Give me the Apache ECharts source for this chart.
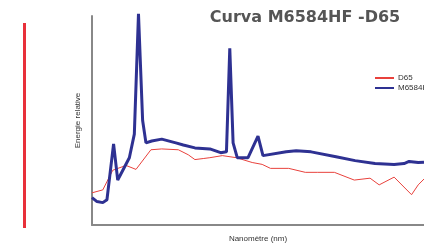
<!DOCTYPE html>
<html>
<head>
<meta charset="utf-8">
<script src="https://cdn.jsdelivr.net/npm/echarts@6/dist/echarts.min.js"></script>
<style>
  html, body { margin: 0; padding: 0; background: #fff; }
  #chart { width: 424px; height: 248px; }
</style>
</head>
<body>
<div id="chart"></div>
<script>
// spectrum points, wavelength (nm) / relative energy
const d65Wl = [380, 393, 405, 421, 433, 451, 464, 484, 496, 504, 514, 522, 537, 554, 573, 585, 595, 617, 637, 652, 672, 696, 715, 726, 744, 765, 773, 780];
const d65Val = [15.4, 16.8, 26.2, 28.5, 26.6, 36, 36.4, 36, 33.6, 31.3, 31.8, 32.2, 33.2, 32.2, 29.9, 29, 27.1, 27.1, 25.2, 25.2, 25.2, 21.5, 22.4, 19.2, 22.9, 14.5, 19.2, 22];
const lampWl = [380, 386, 393, 398, 406, 411, 425, 431, 436, 441, 445, 452, 464, 481, 490, 504, 522, 535, 542, 546, 550, 555, 568, 580, 586, 614, 626, 644, 674, 697, 721, 744, 756, 762, 773, 780];
const lampVal = [13.1, 11.2, 10.7, 12.1, 38.8, 21.5, 32.2, 43.5, 101, 50, 39.3, 40.2, 41.1, 39.3, 38.3, 36.9, 36.4, 34.6, 35, 84.6, 39.3, 32.2, 32.2, 42.5, 33.2, 35, 35.5, 35, 32.7, 30.8, 29.4, 29, 29.4, 30.4, 29.9, 30];

const pairs = (xs, ys) => xs.map((x, i) => [x, ys[i]]);

const chart = echarts.init(document.getElementById('chart'));
const option = {
  animation: false,
  title: {
    text: 'Curva M6584HF -D65',
    left: 300,
    top: 5,
    textAlign: 'center',
    textStyle: {
      fontFamily: 'DejaVu Sans',
      fontSize: 16,
      fontWeight: 'bold',
      color: '#555'
    }
  },
  legend: {
    orient: 'vertical',
    left: 369,
    top: 69,
    itemWidth: 19,
    itemHeight: 8,
    itemGap: 2,
    itemStyle: { opacity: 0 },
    textStyle: { fontSize: 8, color: '#333', fontFamily: 'Liberation Sans', padding: [0, 0, 0, -1] },
    data: ['D65', 'M6584HF']
  },
  graphic: [{
    type: 'rect',
    shape: { x: 23, y: 23, width: 3, height: 205 },
    style: { fill: '#e8303a' }
  }],
  grid: { left: 92, top: 16, right: -6, bottom: 18 },
  xAxis: {
    type: 'value',
    min: 380,
    max: 780,
    name: 'Nanomètre (nm)',
    nameLocation: 'middle',
    nameGap: 10,
    nameTextStyle: { fontSize: 8, color: '#333' },
    axisLine: { lineStyle: { color: '#888', width: 2 } },
    axisTick: { show: false },
    axisLabel: { show: false },
    splitLine: { show: false }
  },
  yAxis: {
    type: 'value',
    min: 0,
    max: 100,
    name: 'Energie relative',
    nameLocation: 'middle',
    nameGap: 10,
    nameTextStyle: { fontSize: 8, color: '#333' },
    axisLine: { show: true, lineStyle: { color: '#888', width: 2 } },
    axisTick: { show: false },
    axisLabel: { show: false },
    splitLine: { show: false }
  },
  series: [
    {
      name: 'D65',
      type: 'line',
      data: pairs(d65Wl, d65Val),
      symbol: 'none',
      clip: false,
      lineStyle: { color: '#e8413c', width: 1 },
      itemStyle: { color: '#e8413c' },
      z: 2
    },
    {
      name: 'M6584HF',
      type: 'line',
      data: pairs(lampWl, lampVal),
      symbol: 'none',
      clip: false,
      lineStyle: { color: '#2e3192', width: 3 },
      itemStyle: { color: '#2e3192' },
      z: 3
    }
  ]
};
chart.setOption(option);
</script>
</body>
</html>
